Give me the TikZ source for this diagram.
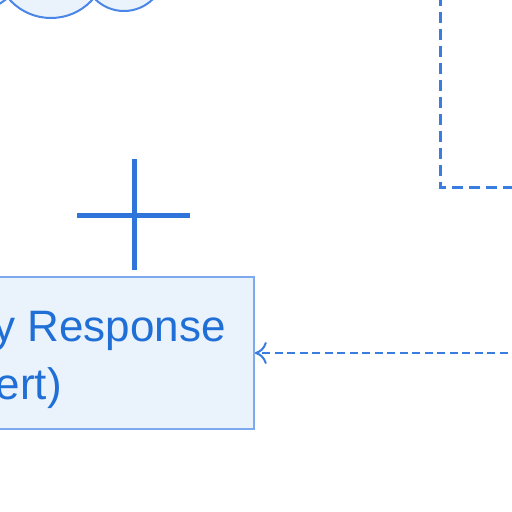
\documentclass[tikz,border=0pt]{standalone}
\usepackage{fontspec}
\setmainfont{Liberation Sans}
\usetikzlibrary{arrows.meta}
\definecolor{boxfill}{HTML}{EAF2FC}
\definecolor{boxline}{HTML}{7DAAEE}
\definecolor{txtblue}{HTML}{1F6FD6}
\definecolor{lineblue}{HTML}{3A7DE0}
\definecolor{plusblue}{HTML}{2F74DA}
\definecolor{cloudline}{HTML}{4A86E8}
\tikzset{
  cloudlobe/.style={fill=boxfill, draw=cloudline, line width=2pt},
  alertbox/.style={draw=boxline, fill=boxfill, line width=1.5pt, rectangle, minimum width=454pt, minimum height=152pt, inner sep=0pt},
  boxtext/.style={text=txtblue, inner sep=0pt, font=\fontsize{44}{53}\selectfont},
  dashline/.style={draw=lineblue, line width=3pt, dash pattern=on 11pt off 6pt},
  arrowline/.style={draw=lineblue, line width=2pt, dash pattern=on 8pt off 4.5pt, -{Computer Modern Rightarrow[length=12pt,width=22pt,line width=2pt]}},
  plusbar/.style={draw=plusblue, line width=5pt}
}
\begin{document}
\begin{tikzpicture}[x=1pt,y=-1pt]
\useasboundingbox (0,0) rectangle (512,512);
\clip (0,0) rectangle (512,512);
% cloud lobes
\draw[cloudlobe] (51,-38) circle (56);
\draw[cloudlobe] (124,-30) circle (41);
\draw[cloudlobe] (-25,-38) circle (48.5);
% dashed connector from top
\coordinate (d1) at (440,-5);
\coordinate (d2) at (440,187);
\coordinate (d3) at (520,187);
\draw[dashline] (d1) -- (d2) -- (d3);
% plus sign
\coordinate (pt) at (134,159);
\coordinate (pb) at (134,270);
\coordinate (pl) at (77,215);
\coordinate (pr) at (190,215);
\draw[plusbar] (pt) -- (pb);
\draw[plusbar] (pl) -- (pr);
% box
\node[alertbox] (box) at (27,353) {};
\node[boxtext, anchor=base east] (t1) at (226,341) {y Response};
\node[boxtext, anchor=base east] (t2) at (62,399) {ert)};
% arrow
\coordinate (ar) at (520,353);
\draw[arrowline] (ar) -- (box.east);
\end{tikzpicture}
\end{document}
